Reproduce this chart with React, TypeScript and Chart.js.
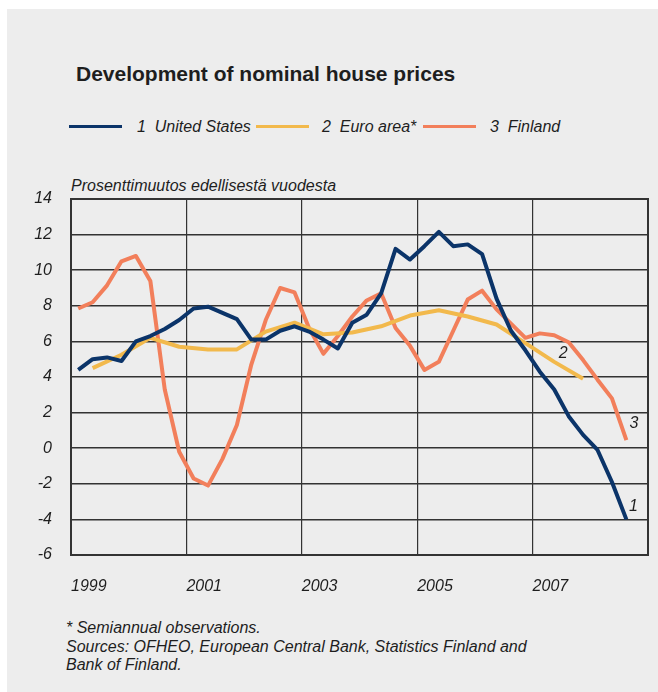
import React, { useEffect, useRef } from "react";
import { Chart, registerables } from "chart.js";

Chart.register(...registerables);

// ---------- data ----------
const quarters = [
  "1999Q1", "1999Q2", "1999Q3", "1999Q4",
  "2000Q1", "2000Q2", "2000Q3", "2000Q4",
  "2001Q1", "2001Q2", "2001Q3", "2001Q4",
  "2002Q1", "2002Q2", "2002Q3", "2002Q4",
  "2003Q1", "2003Q2", "2003Q3", "2003Q4",
  "2004Q1", "2004Q2", "2004Q3", "2004Q4",
  "2005Q1", "2005Q2", "2005Q3", "2005Q4",
  "2006Q1", "2006Q2", "2006Q3", "2006Q4",
  "2007Q1", "2007Q2", "2007Q3", "2007Q4",
  "2008Q1", "2008Q2", "2008Q3",
];

const halfYears = [
  "1999H1", "1999H2", "2000H1", "2000H2", "2001H1", "2001H2",
  "2002H1", "2002H2", "2003H1", "2003H2", "2004H1", "2004H2",
  "2005H1", "2005H2", "2006H1", "2006H2", "2007H1", "2007H2",
];

const usValues = [
  4.4, 5.0, 5.1, 4.9, 6.0, 6.3, 6.7, 7.2, 7.85, 7.95, 7.6, 7.25,
  6.1, 6.1, 6.6, 6.85, 6.55, 6.1, 5.6, 7.05, 7.5, 8.7, 11.2, 10.6,
  11.35, 12.15, 11.35, 11.45, 10.9, 8.4, 6.6, 5.5, 4.3, 3.3, 1.8, 0.75,
  -0.1, -1.9, -4.0,
];

const euroValues = [
  4.5, 5.25, 6.2, 5.7, 5.55, 5.55, 6.55, 7.05, 6.4, 6.5, 6.85, 7.45,
  7.75, 7.4, 6.95, 5.9, 4.85, 3.9,
];

const finlandValues = [
  7.85, 8.2, 9.15, 10.5, 10.8, 9.4, 3.3, -0.2, -1.7, -2.1, -0.6, 1.3,
  4.7, 7.2, 9.0, 8.75, 6.75, 5.3, 6.3, 7.4, 8.3, 8.7, 6.75, 5.75,
  4.4, 4.85, 6.6, 8.35, 8.85, 7.8, 7.0, 6.2, 6.45, 6.35, 5.95, 4.95,
  3.85, 2.8, 0.45,
];

const seriesNames = ["United States", "Euro area*", "Finland"];
const seriesNumbers = ["1", "2", "3"];

const xTickYears = [1999, 2001, 2003, 2005, 2007, 2009];
const xTickLabels = ["1999", "2001", "2003", "2005", "2007", ""];
const yMin = -6;
const yMax = 14;
const yStep = 2;

const titleText = "Development of nominal house prices";
const yAxisTitle = "Prosenttimuutos edellisestä vuodesta";
const footnotes = [
  "* Semiannual observations.",
  "Sources: OFHEO, European Central Bank, Statistics Finland and",
  "Bank of Finland.",
];

// ---------- style ----------
const FONT = '"Liberation Sans", Arial, Helvetica, sans-serif';
const COLORS = ["#0b3469", "#f2b94c", "#f27f5b"];
const TEXT = "#1e1e1e";
const GRID = "#333333";
const PANEL = "#ededed";

// quarter "YYYYQn" -> mid-quarter position on the year axis
const quarterPos = (q: string) => {
  const y = parseInt(q.slice(0, 4), 10);
  const n = parseInt(q.slice(5), 10);
  return y + (n - 1) / 4 + 0.125;
};
// half-year "YYYYHn" -> plotted at the last quarter of the half
const halfPos = (h: string) => {
  const y = parseInt(h.slice(0, 4), 10);
  const n = parseInt(h.slice(5), 10);
  return y + (n - 1) / 2 + 0.375;
};

const labelOffsets = [
  { dx: 7, dy: -13 },
  { dx: -20, dy: -25 },
  { dx: 7.5, dy: -17 },
];

const framePlugin = {
  id: "frame",
  beforeDatasetsDraw(chart: any) {
    const { ctx, chartArea } = chart;
    ctx.save();
    ctx.strokeStyle = GRID;
    ctx.lineWidth = 2;
    ctx.strokeRect(chartArea.left, chartArea.top, chartArea.right - chartArea.left, chartArea.bottom - chartArea.top);
    ctx.restore();
  },
};

const endLabelPlugin = {
  id: "endLabels",
  afterDatasetsDraw(chart: any) {
    const { ctx } = chart;
    ctx.save();
    ctx.font = `italic 16px ${FONT}`;
    ctx.fillStyle = TEXT;
    ctx.textAlign = "center";
    ctx.textBaseline = "middle";
    chart.data.datasets.forEach((ds: any, i: number) => {
      const meta = chart.getDatasetMeta(i);
      const last = meta.data[meta.data.length - 1];
      if (!last) return;
      ctx.fillText(seriesNumbers[i], last.x + labelOffsets[i].dx, last.y + labelOffsets[i].dy);
    });
    ctx.restore();
  },
};

function ChartCanvas() {
  const ref = useRef<HTMLCanvasElement | null>(null);
  useEffect(() => {
    if (!ref.current) return;
    const tickFont = { family: FONT, size: 16, style: "italic" as const };
    const chart = new Chart(ref.current, {
      type: "line",
      data: {
        datasets: [
          {
            label: seriesNames[0],
            data: quarters.map((q, i) => ({ x: quarterPos(q), y: usValues[i] })),
            borderColor: COLORS[0],
          },
          {
            label: seriesNames[1],
            data: halfYears.map((h, i) => ({ x: halfPos(h), y: euroValues[i] })),
            borderColor: COLORS[1],
          },
          {
            label: seriesNames[2],
            data: quarters.map((q, i) => ({ x: quarterPos(q), y: finlandValues[i] })),
            borderColor: COLORS[2],
          },
        ].map((d) => ({
          ...d,
          borderWidth: 4,
          pointRadius: 0,
          tension: 0,
          fill: false,
          borderJoinStyle: "round" as const,
          borderCapStyle: "butt" as const,
        })),
      },
      options: {
        animation: false,
        responsive: false,
        maintainAspectRatio: false,
        layout: { padding: { top: 29, right: 10, left: 0, bottom: 0 } },
        plugins: {
          legend: { display: false },
          tooltip: { enabled: false },
          title: { display: false },
        },
        scales: {
          x: {
            type: "linear",
            min: xTickYears[0],
            max: xTickYears[xTickYears.length - 1],
            afterBuildTicks: (scale: any) => {
              scale.ticks = xTickYears.map((v) => ({ value: v }));
            },
            afterFit: (scale: any) => {
              scale.height = 45;
              scale.paddingLeft = 0;
              scale.paddingRight = 0;
            },
            ticks: {
              align: "start",
              padding: 22,
              color: TEXT,
              font: tickFont,
              maxRotation: 0,
              autoSkip: false,
              callback: (_v: any, idx: number) => xTickLabels[idx],
            },
            grid: { color: GRID, lineWidth: 1.2, drawTicks: false },
            border: { display: true, color: GRID, width: 2 },
          },
          y: {
            type: "linear",
            min: yMin,
            max: yMax,
            afterFit: (scale: any) => {
              scale.width = 71;
              scale.paddingTop = 0;
              scale.paddingBottom = 0;
            },
            ticks: {
              stepSize: yStep,
              padding: 19,
              color: TEXT,
              font: tickFont,
            },
            grid: { color: GRID, lineWidth: 1.5, drawTicks: false },
            border: { display: true, color: GRID, width: 2 },
          },
        },
      },
      plugins: [framePlugin, endLabelPlugin],
    });
    return () => chart.destroy();
  }, []);
  return (
    <canvas
      ref={ref}
      width={658}
      height={430}
      style={{ position: "absolute", left: 0, top: 170, width: 658, height: 430 }}
    />
  );
}

const abs = (left: number, top: number, extra: React.CSSProperties = {}): React.CSSProperties => ({
  position: "absolute",
  left,
  top,
  whiteSpace: "pre",
  ...extra,
});

export default function App() {
  const legendItems = [
    { lineLeft: 69, textLeft: 137 },
    { lineLeft: 256, textLeft: 322 },
    { lineLeft: 423, textLeft: 490 },
  ];
  const textStyle: React.CSSProperties = {
    fontFamily: FONT,
    fontStyle: "italic",
    fontSize: 16,
    lineHeight: "16px",
    color: TEXT,
  };
  return (
    <div>
      <div style={{ position: "absolute", left: 7, top: 9, width: 651, height: 683, background: PANEL }} />
      <div
        style={abs(76, 63, {
          fontFamily: FONT,
          fontWeight: "bold",
          fontSize: 21,
          lineHeight: "21px",
          color: TEXT,
        })}
      >
        {titleText}
      </div>
      {legendItems.map((it, i) => (
        <React.Fragment key={i}>
          <div style={abs(it.lineLeft, 124.5, { width: 53, height: 3, background: COLORS[i] })} />
          <div style={abs(it.textLeft, 118.5, textStyle)}>{`${seriesNumbers[i]}  ${seriesNames[i]}`}</div>
        </React.Fragment>
      ))}
      <div style={abs(71, 178, textStyle)}>{yAxisTitle}</div>
      <ChartCanvas />
      {footnotes.map((f, i) => (
        <div key={i} style={abs(66, 619 + i * 18.5, { ...textStyle, lineHeight: "18.5px" })}>
          {f}
        </div>
      ))}
    </div>
  );
}
